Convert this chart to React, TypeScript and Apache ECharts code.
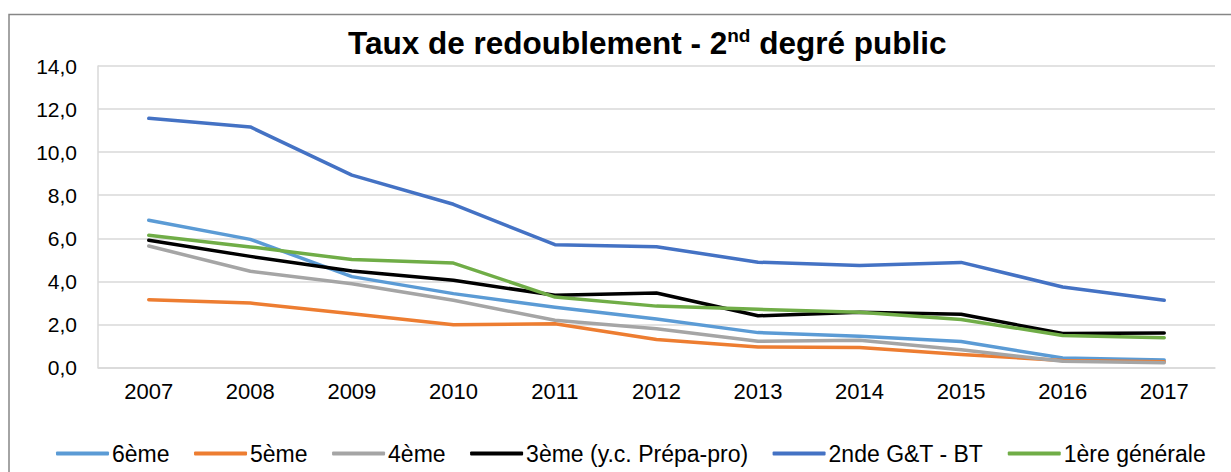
import React, { useEffect, useRef } from "react";
import * as echarts from "echarts";

const years = ["2007", "2008", "2009", "2010", "2011", "2012", "2013", "2014", "2015", "2016", "2017"];
const sixieme = [6.84, 5.95, 4.22, 3.43, 2.8, 2.25, 1.62, 1.45, 1.21, 0.44, 0.35];
const cinquieme = [3.15, 2.99, 2.5, 1.99, 2.03, 1.3, 0.95, 0.93, 0.6, 0.33, 0.27];
const quatrieme = [5.64, 4.47, 3.89, 3.12, 2.19, 1.8, 1.22, 1.26, 0.82, 0.29, 0.22];
const troisieme = [5.91, 5.16, 4.48, 4.05, 3.35, 3.46, 2.4, 2.57, 2.47, 1.58, 1.6];
const seconde = [11.57, 11.17, 8.93, 7.58, 5.7, 5.61, 4.89, 4.74, 4.88, 3.74, 3.12];
const premiere = [6.14, 5.6, 5.01, 4.85, 3.27, 2.85, 2.7, 2.57, 2.23, 1.49, 1.38];

const seriesNames = ["6ème", "5ème", "4ème", "3ème (y.c. Prépa-pro)", "2nde G&T - BT", "1ère générale"];
const seriesData = [sixieme, cinquieme, quatrieme, troisieme, seconde, premiere];
const seriesColors = ["#5B9BD5", "#ED7D31", "#A5A5A5", "#000000", "#4472C4", "#70AD47"];

const FONT = "Liberation Sans";

export default function App() {
  const ref = useRef<HTMLDivElement>(null);
  useEffect(() => {
    if (!ref.current) return;
    const chart = echarts.init(ref.current, undefined, { renderer: "svg" });
    chart.setOption({
      animation: false,
      backgroundColor: "#ffffff",
      textStyle: { fontFamily: FONT },
      title: {
        text: "Taux de redoublement - 2{sup|nd} degré public",
        left: 343,
        top: 21,
        textStyle: {
          fontFamily: FONT,
          fontSize: 31.5,
          fontWeight: "bold",
          color: "#000",
          lineHeight: 34,
          rich: {
            sup: {
              fontFamily: FONT,
              fontSize: 19,
              fontWeight: "bold",
              color: "#000",
              verticalAlign: "top",
              lineHeight: 22,
            },
          },
        },
      },
      graphic: [
        {
          type: "rect",
          shape: { x: 9, y: 14.5, width: 1400, height: 600 },
          style: { fill: "none", stroke: "#868686", lineWidth: 1.5 },
          silent: true,
        },
      ],
      legend: {
        left: 51,
        top: 437,
        itemWidth: 53,
        itemHeight: 4,
        itemGap: 24.5,
        icon: "roundRect",
        textStyle: { fontFamily: FONT, fontSize: 23, color: "#000", padding: [0, 0, 0, -2] },
        data: seriesNames,
      },
      grid: { left: 98, right: 16, top: 66, bottom: 104.5, containLabel: false },
      xAxis: {
        type: "category",
        data: years,
        boundaryGap: true,
        axisTick: { show: false },
        axisLine: { show: true, lineStyle: { color: "#d9d9d9", width: 1.5 } },
        axisLabel: { fontFamily: FONT, fontSize: 22, color: "#000", margin: 13 },
      },
      yAxis: {
        type: "value",
        min: 0,
        max: 14,
        interval: 2,
        axisLine: { show: true, lineStyle: { color: "#d9d9d9", width: 1.5 } },
        axisTick: { show: false },
        splitLine: { show: true, lineStyle: { color: "#d9d9d9", width: 1.5 } },
        axisLabel: {
          fontFamily: FONT,
          fontSize: 21,
          color: "#000",
          margin: 21,
          formatter: (v: number) => v.toFixed(1).replace(".", ","),
        },
      },
      series: seriesNames.map((name, i) => ({
        name,
        type: "line",
        data: seriesData[i],
        symbol: "none",
        color: seriesColors[i],
        lineStyle: { color: seriesColors[i], width: 3.5, cap: "round", join: "round" },
      })),
    });
    return () => chart.dispose();
  }, []);
  return <div ref={ref} style={{ position: "fixed", left: 0, top: 0, width: 1231, height: 472 }} />;
}
